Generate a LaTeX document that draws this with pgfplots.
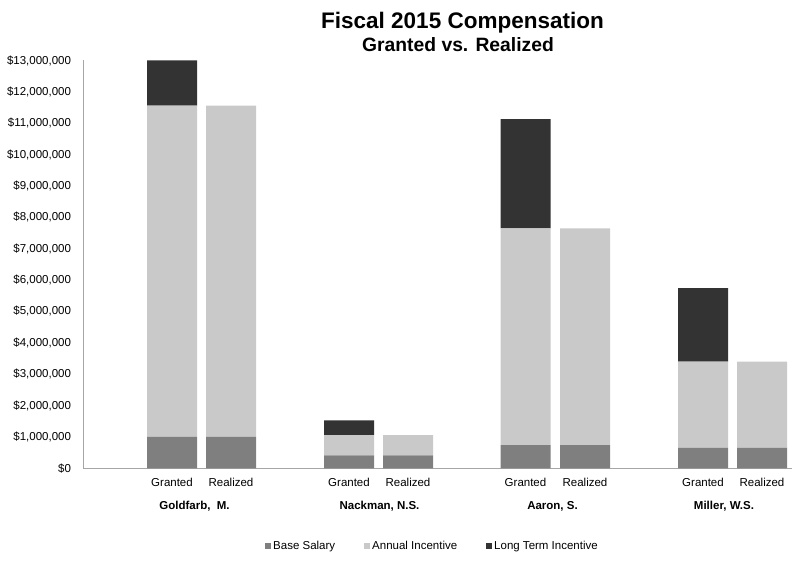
\documentclass[border=0pt]{standalone}
\usepackage{fontspec}
\setmainfont{Liberation Sans}
\usepackage{pgfplots}
\usepackage{pgfplotstable}
\pgfplotsset{compat=1.18}
\definecolor{basec}{HTML}{7F7F7F}
\definecolor{annc}{HTML}{C9C9C9}
\definecolor{ltic}{HTML}{333333}
\definecolor{axc}{HTML}{A6A6A6}
\pgfplotstableread{
x base annual lti
172 1000000 10560000 1440000
231 1000000 10560000 0
349 410000 650000 470000
408 410000 650000 0
525.5 740000 6910000 3480000
585 740000 6910000 0
703 650000 2750000 2340000
762 650000 2750000 0
}\comp
\newcommand{\lbl}{\fontsize{11.5pt}{13pt}\selectfont}
\begin{document}
\begin{tikzpicture}
\path[use as bounding box] (0pt,0pt) rectangle (800pt,567pt);
\node[anchor=base,font=\fontsize{22.5pt}{26pt}\selectfont\bfseries] at (462.5pt,538pt) {Fiscal 2015 Compensation};
\node[anchor=base,font=\fontsize{19.3pt}{22pt}\selectfont\bfseries] at (458pt,515.3pt) {Granted vs. Realized};
\begin{axis}[
  at={(83pt,98.7pt)}, anchor=south west,
  scale only axis, width=709pt, height=407.8pt,
  xmin=83, xmax=792, ymin=0, ymax=13000000,
  ybar stacked, bar width=50,
  axis x line*=bottom, axis y line*=left,
  axis line style={axc, line width=0.9pt, -},
  major tick length=0pt,
  xtick={172,231,349,408,525.5,585,703,762},
  xticklabels={Granted,Realized,Granted,Realized,Granted,Realized,Granted,Realized},
  xticklabel style={font=\lbl, anchor=base, yshift=-18.4pt},
  extra x ticks={194.5,379.5,552.5,724},
  extra x tick labels={{\textbf{Goldfarb,\ \ M.}},{\textbf{Nackman, N.S.}},{\textbf{Aaron, S.}},{\textbf{Miller, W.S.}}},
  extra x tick style={tick label style={font=\lbl, anchor=base, yshift=-22.6pt}},
  ytick={0,1000000,...,13000000},
  scaled y ticks=false,
  /pgf/number format/assume math mode=true,
  yticklabel={\$\pgfmathprintnumber[fixed,precision=0,1000 sep={,}]{\tick}},
  yticklabel style={font=\lbl, anchor=east, xshift=-8.5pt},
  legend style={draw=none, fill=none, at={(0.2567,-0.1905)}, anchor=west,
    font=\lbl, legend columns=-1, inner sep=0pt,
    /tikz/every even column/.append style={column sep=27pt}},
  legend image code/.code={\fill[#1] (0pt,-3pt) rectangle (6pt,3pt);},
  legend cell align=left,
]
\addplot[fill=basec, draw=none] table[x=x,y=base]{\comp};
\addplot[fill=annc, draw=none] table[x=x,y=annual]{\comp};
\addplot[fill=ltic, draw=none] table[x=x,y=lti]{\comp};
\legend{Base Salary,Annual Incentive,Long Term Incentive}
\end{axis}
\end{tikzpicture}
\end{document}
